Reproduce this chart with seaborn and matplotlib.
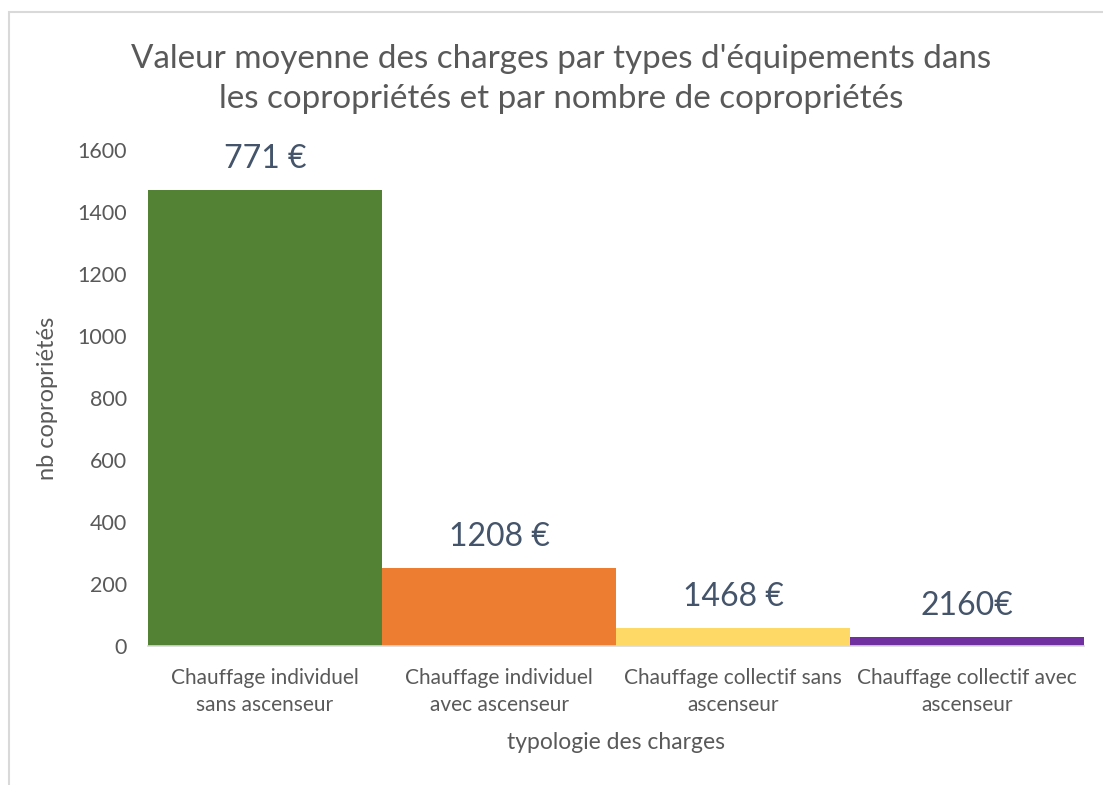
import matplotlib
matplotlib.use("Agg")
import matplotlib.pyplot as plt
import seaborn as sns
import pandas as pd
from matplotlib.patches import Rectangle

categories = ["Chauffage individuel\nsans ascenseur",
              "Chauffage individuel\navec ascenseur",
              "Chauffage collectif sans\nascenseur",
              "Chauffage collectif avec\nascenseur"]
nb_coproprietes = [1470, 252, 57, 28]
bar_labels = ["771 €", "1208 €", "1468 €", "2160€"]
colors = ["#548235", "#ED7D31", "#FFD966", "#7030A0"]
yticks = [0, 200, 400, 600, 800, 1000, 1200, 1400, 1600]

sns.set_theme(style="white")
plt.rcParams['font.family'] = ['Lato', 'DejaVu Sans']

df = pd.DataFrame({"cat": categories, "val": nb_coproprietes})

W, H = 1103, 785
fig = plt.figure(figsize=(W / 100, H / 100), dpi=100)
ax = fig.add_axes([148 / W, 1 - 646 / H, (1084 - 148) / W, (646 - 150) / H])

sns.barplot(data=df, x="cat", y="val", hue="cat", palette=colors, width=1.0,
            saturation=1, legend=False, ax=ax, linewidth=0)

ax.set_xlim(-0.5, 3.5)
ax.set_ylim(0, 1600)
ax.set_yticks(yticks)
ax.set_yticklabels([str(v) for v in yticks])
for s in ["left", "right", "top"]:
    ax.spines[s].set_visible(False)
ax.spines["bottom"].set_color("#D9D9D9")
ax.spines["bottom"].set_linewidth(1.2)
ax.tick_params(axis="both", length=0, colors="#595959")
ax.tick_params(axis="y", pad=15, labelsize=15.5)
ax.tick_params(axis="x", pad=16, labelsize=15)
for t in ax.get_xticklabels():
    t.set_linespacing(1.45)

ax.set_xlabel("typologie des charges", fontsize=16.5, color="#595959", labelpad=12)
ax.set_ylabel("nb copropriétés", fontsize=17, color="#595959", labelpad=14)

for i, (v, lab) in enumerate(zip(nb_coproprietes, bar_labels)):
    ax.annotate(lab, xy=(i, v), xytext=(0, 31), textcoords="offset pixels",
                ha="center", va="center", fontsize=23, color="#44546A")

fig.text(561 / W, 1 - 79 / H,
         "Valeur moyenne des charges par types d'équipements dans\nles copropriétés et par nombre de copropriétés",
         ha="center", va="center", fontsize=23.9, color="#595959", linespacing=1.4)

fig.patches.append(Rectangle((9 / W, -0.2), 1.2, 1.2 - 12 / H, transform=fig.transFigure,
                             fill=False, edgecolor="#D9D9D9", linewidth=1.5))

fig.savefig("out.png", dpi=100)
